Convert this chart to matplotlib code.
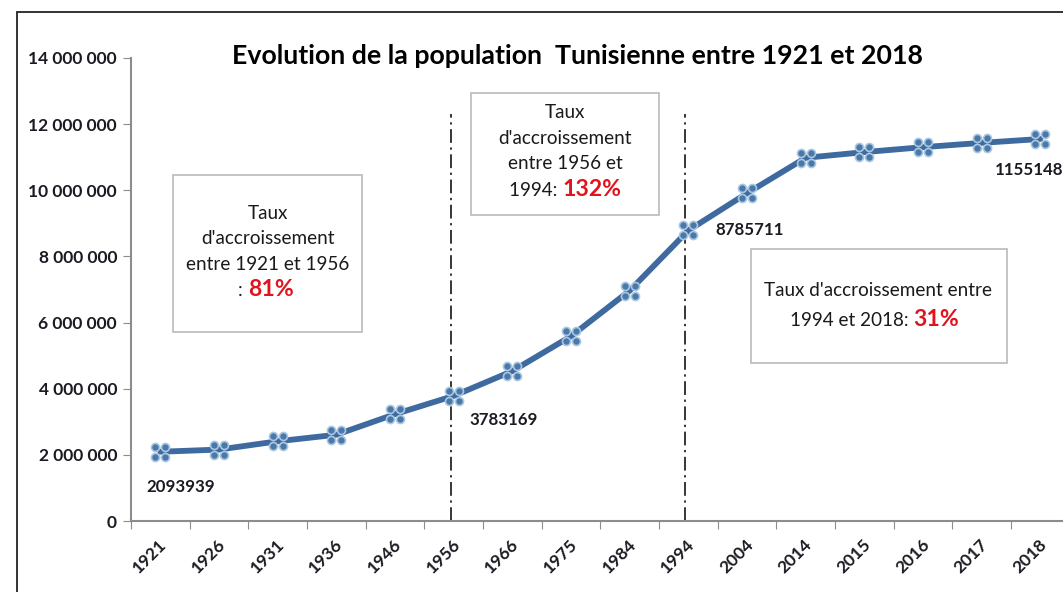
import numpy as np
import matplotlib
matplotlib.use("Agg")
import matplotlib.pyplot as plt
from matplotlib.path import Path
from matplotlib.patches import Rectangle
from matplotlib.ticker import FuncFormatter, FixedLocator
import matplotlib.transforms as mtransforms

# Données : population tunisienne
annees = ["1921", "1926", "1931", "1936", "1946", "1956", "1966", "1975", "1984",
          "1994", "2004", "2014", "2015", "2016", "2017", "2018"]
population = [2093939, 2159708, 2410692, 2608313, 3230952, 3783169, 4533351,
              5588209, 6966173, 8785711, 9910872, 10982754, 11154400, 11304500,
              11434000, 11551448]
annees_etiquetees = ["1921", "1956", "1994", "2018"]
etiquettes = ["2093939", "3783169", "8785711", "1155148"]
annees_reperes = ["1956", "1994"]

W, H = 1063, 592
plt.rcParams['font.family'] = ['Lato', 'DejaVu Sans']


def px(x, y):
    return x / W, 1 - y / H


# marqueur en forme de quatre petits cercles
def marqueur_quatre_cercles():
    verts, codes = [], []
    for cx, cy in [(-1, -1), (1, -1), (-1, 1), (1, 1)]:
        c = Path.circle((cx, cy), 0.8)
        verts.extend(c.vertices)
        codes.extend(c.codes)
    return Path(verts, codes)


fig = plt.figure(figsize=(W / 100, H / 100), dpi=100)
ax = fig.add_axes([131 / W, (H - 521) / H, (1069.7 - 131) / W, (521 - 58) / H])

x = np.arange(len(annees))
ax.plot(x, population, color='#3e6a9f', lw=4.2, solid_capstyle='round', zorder=3)
ax.plot(x, population, ls='none', marker=marqueur_quatre_cercles(), markersize=13,
        markerfacecolor='#4a78a8', markeredgecolor='#a9c7e2', markeredgewidth=1.2,
        zorder=4)

# lignes verticales
for a in annees_reperes:
    i = annees.index(a)
    ax.plot([i - 0.05, i - 0.05], [0, 12.3e6], color='black', lw=1.1,
            ls=(0, (9, 3, 1.5, 3)), zorder=2)

# étiquettes de données
decalages = {"1921": (20, -35, 'center'), "1956": (50, -24, 'center'),
             "1994": (61, 0, 'center'), "2018": (-45, -31, 'left')}
for a, txt in zip(annees_etiquetees, etiquettes):
    i = annees.index(a)
    dx, dy, ha = decalages[a]
    ax.annotate(txt, (i, population[i]), xytext=(dx, dy), textcoords='offset pixels',
                ha=ha, va='center', fontsize=12.2, fontweight='bold',
                color='#1a1a22', zorder=5, annotation_clip=False)

ax.set_xlim(-0.5, len(annees) - 0.5)
ax.set_ylim(0, 14e6)
ax.yaxis.set_major_locator(FixedLocator(np.arange(0, 14e6 + 1, 2e6)))
ax.yaxis.set_major_formatter(FuncFormatter(lambda v, p: f"{int(v):,}".replace(",", " ")))

ax.set_xticks(np.arange(-0.5, len(annees), 1.0))
ax.set_xticklabels([])
ax.set_xticks(x, minor=True)
ax.set_xticklabels(annees, minor=True, rotation=45, ha='right', va='center',
                   rotation_mode='anchor', fontsize=12.5, fontweight='bold', color='#1a1a22')
ax.tick_params(axis='x', which='minor', length=0, pad=15)
ax.tick_params(axis='x', which='major', length=6, color='#8c8c8c', direction='out')
ax.tick_params(axis='y', length=6, color='#8c8c8c', labelsize=12.5, labelcolor='#1a1a22', pad=4)
for lab in ax.get_yticklabels():
    lab.set_fontweight('bold')
decal = mtransforms.ScaledTranslation(4 / 100, 0, fig.dpi_scale_trans)
for lab in ax.xaxis.get_minorticklabels():
    lab.set_transform(lab.get_transform() + decal)

for s in ['top', 'right']:
    ax.spines[s].set_visible(False)
for s in ['left', 'bottom']:
    ax.spines[s].set_color('#8c8c8c')
    ax.spines[s].set_linewidth(1.5)

# titre
fig.text(*px(578, 56), "Evolution de la population  Tunisienne entre 1921 et 2018",
         ha='center', va='center', fontsize=19.3, fontweight='bold', color='black')

# cadre du graphique
fig.patches.append(Rectangle(px(17, 620), (W + 40) / W, 608 / H, transform=fig.transFigure,
                             fill=False, edgecolor='#222222', lw=1.3))

# boîtes de texte
boites = [(173, 175, 362, 332), (471, 93, 659, 215), (751, 249, 1007, 363)]
for x0, y0, x1, y1 in boites:
    fig.patches.append(Rectangle(px(x0, y1), (x1 - x0) / W, (y1 - y0) / H,
                                 transform=fig.transFigure, facecolor='white',
                                 edgecolor='#bfbfbf', lw=1.3, zorder=5))

sz = 13.6
noir = '#1a1a1a'
rouge = '#e0141e'
lignes = [
    (267.5, 213, "Taux"), (267.5, 239, "d'accroissement"), (267.5, 264, "entre 1921 et 1956"),
    (565, 113, "Taux"), (565, 139, "d'accroissement"), (565, 164, "entre 1956 et"),
    (878, 291, "Taux d'accroissement entre"),
]
for xx, yy, t in lignes:
    fig.text(*px(xx, yy), t, ha='center', va='center', fontsize=sz, color=noir, zorder=6)

# dernière ligne : partie noire + pourcentage rouge
parties = [(248, 291, ": ", "81%"), (562, 190, "1994: ", "132%"), (913, 320, "1994 et 2018: ", "31%")]
for xx, yy, t1, t2 in parties:
    fig.text(*px(xx, yy), t1, ha='right', va='center', fontsize=sz, color=noir, zorder=6)
    fig.text(*px(xx, yy - 1), t2, ha='left', va='center', fontsize=sz + 3,
             fontweight='bold', color=rouge, zorder=6)

fig.savefig("out.png", dpi=100)
